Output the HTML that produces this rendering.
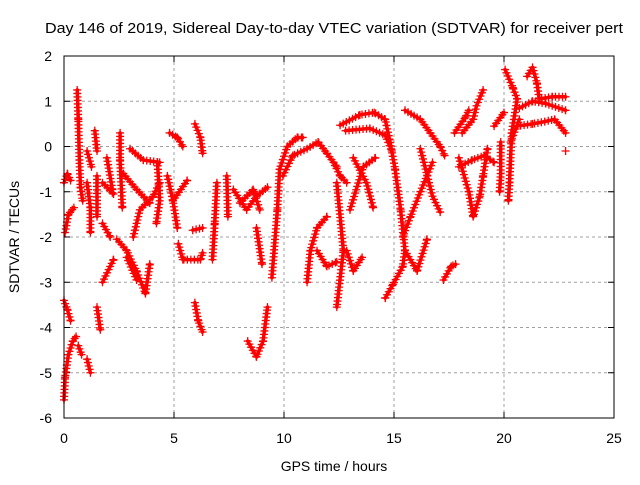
<!DOCTYPE html>
<html><head><meta charset="utf-8"><style>
body{margin:0;background:#fff}
svg text{font-family:"Liberation Sans",sans-serif;font-size:14px;fill:#000}
</style></head><body>
<svg id="chart" width="640" height="480" xmlns="http://www.w3.org/2000/svg">
<text x="45" y="33" style="font-size:15px" textLength="578" lengthAdjust="spacingAndGlyphs">Day 146 of 2019, Sidereal Day-to-day VTEC variation (SDTVAR) for receiver pert</text>
<text x="334" y="471" text-anchor="middle">GPS time / hours</text>
<text transform="translate(19,237) rotate(-90)" text-anchor="middle">SDTVAR / TECUs</text>
<g id="grid"></g>
<g id="marks"></g>
<rect x="64" y="56" width="550" height="362" fill="none" stroke="#000" stroke-width="1"/>
</svg>
<script>
const xTicks=[0,5,10,15,20,25];
const yTicks=[2,1,0,-1,-2,-3,-4,-5,-6];
const tracks=[
[[0,-0.8],[0.15,-0.6],[0.3,-0.75]],
[[0,-5.6],[0.05,-5.1],[0.2,-4.6],[0.4,-4.3],[0.55,-4.2]],
[[0,-3.4],[0.15,-3.6],[0.3,-3.85]],
[[0.05,-1.9],[0.2,-1.5],[0.45,-1.35]],
[[0.6,1.25],[0.65,0.6],[0.7,-0.3],[0.75,-0.9],[0.85,-1.2]],
[[0.65,-4.4],[0.8,-4.6]],
[[1.05,-4.7],[1.2,-5.0]],
[[1.05,-0.1],[1.25,-0.45]],
[[1.4,0.35],[1.5,-0.1]],
[[1.05,-0.8],[1.2,-1.35],[1.2,-1.9]],
[[1.5,-0.65],[1.5,-1.55]],
[[1.5,-3.55],[1.65,-4.05]],
[[1.75,-3.0],[2.25,-2.5]],
[[1.75,-0.8],[2.25,-1.05]],
[[1.75,-1.7],[2.1,-2.0]],
[[1.95,-0.25],[2.2,-0.95]],
[[2.55,0.3],[2.55,-0.3],[2.65,-1.35]],
[[2.4,-2.05],[2.85,-2.3],[3.3,-2.75],[3.7,-3.25],[3.9,-2.6]],
[[2.85,-2.45],[3.3,-2.95]],
[[3.0,-0.05],[3.6,-0.3],[4.35,-0.35]],
[[2.7,-0.6],[3.3,-0.95],[3.9,-1.25]],
[[3.15,-2.0],[3.45,-1.4],[4.05,-1.1],[4.35,-0.8]],
[[4.25,-0.35],[4.35,-1.2],[4.2,-1.7]],
[[4.7,-0.65],[4.95,-1.2],[5.15,-1.8]],
[[4.95,-1.2],[5.6,-0.75]],
[[4.8,0.3],[5.15,0.2],[5.4,0.0]],
[[5.2,-2.15],[5.4,-2.5],[6.2,-2.5],[6.3,-2.35]],
[[5.95,0.5],[6.2,0.2],[6.3,-0.15]],
[[5.95,-3.45],[6.1,-3.85],[6.3,-4.1]],
[[5.85,-1.85],[6.3,-1.8]],
[[6.75,-2.5],[6.85,-1.7],[6.95,-0.8]],
[[7.4,-0.65],[7.45,-1.55]],
[[7.7,-0.95],[8.3,-1.4],[8.75,-1.1],[9.25,-0.9]],
[[8.0,-1.25],[8.6,-0.95],[8.9,-1.4]],
[[8.75,-1.8],[9.0,-2.6]],
[[8.35,-4.3],[8.75,-4.65],[9.05,-4.3],[9.25,-3.55]],
[[9.45,-2.9],[9.7,-1.4],[9.8,-0.5],[10.15,0.0],[10.6,0.2],[10.85,0.2]],
[[9.95,-0.65],[10.4,-0.2],[11.05,-0.05],[11.55,0.1],[11.95,-0.15],[12.4,-0.45]],
[[11.05,-3.0],[11.2,-2.3],[11.5,-1.8],[11.95,-1.55]],
[[11.5,-2.3],[11.95,-2.65],[12.4,-2.55]],
[[12.4,-0.8],[12.7,-2.3],[12.4,-3.55]],
[[12.85,-2.3],[13.15,-2.75],[13.55,-2.45]],
[[12.25,-0.35],[12.55,-0.65],[12.85,-0.8]],
[[13.0,-1.4],[13.6,-0.45],[14.15,-0.25]],
[[13.15,-0.25],[13.75,-0.8],[14.05,-1.35]],
[[12.55,0.47],[13.45,0.7],[14.1,0.75],[14.6,0.6],[14.8,0.15],[15.05,-0.5],[15.3,-1.4],[15.5,-2.3],[15.4,-2.65],[14.95,-3.05],[14.6,-3.35]],
[[12.8,0.35],[13.9,0.4],[14.6,0.25],[14.9,-0.1]],
[[15.5,-2.3],[16.05,-2.75],[16.5,-2.05]],
[[15.5,0.8],[16.2,0.6],[16.65,0.3],[17.1,0.0],[17.3,-0.2]],
[[16.2,-0.05],[16.75,-1.1],[17.1,-1.45]],
[[16.75,-0.35],[16.2,-1.0],[15.75,-1.55],[15.4,-2.0]],
[[17.25,-2.95],[17.6,-2.65],[17.8,-2.6]],
[[17.75,0.3],[18.25,0.65],[18.4,0.8]],
[[17.95,-0.25],[18.4,-1.0],[18.6,-1.55],[18.9,-1.1],[19.05,-0.65],[19.25,-0.05]],
[[18.1,0.3],[18.6,0.6],[18.75,0.9],[19.05,1.25]],
[[17.95,-0.45],[18.55,-0.3],[19.1,-0.2],[19.55,-0.35]],
[[19.55,0.45],[20.0,0.75]],
[[19.85,0.1],[19.85,-0.6],[19.8,-1.0]],
[[20.05,1.7],[20.4,1.3],[20.6,1.05],[20.35,0.3],[20.25,-0.8],[20.2,-1.2]],
[[21.05,1.55],[21.3,1.75],[21.5,1.4],[21.6,1.05],[22.2,1.1],[22.8,1.1]],
[[20.7,0.85],[21.3,1.0],[21.9,0.95],[22.8,0.8]],
[[20.6,0.45],[21.3,0.5],[21.85,0.55],[22.3,0.6],[22.8,0.3]],
[[20.3,0.1],[20.7,0.6]],
[[22.8,-0.1]]
];
const X0=64,X1=614,Y0=418,Y1=56;
function xs(h){return X0+(h-0)/(25-0)*(X1-X0);}
function ys(v){return Y0-(v-(-6))/(2-(-6))*(Y0-Y1);}
const NS="http://www.w3.org/2000/svg";
const svg=document.getElementById('chart'),grid=document.getElementById('grid'),marks=document.getElementById('marks');
function mk(tag,attrs,parent){const e=document.createElementNS(NS,tag);for(const k in attrs)e.setAttribute(k,attrs[k]);parent.appendChild(e);return e;}
xTicks.forEach(t=>{const x=xs(t);
 if(t>0&&t<25){const g=mk('line',{x1:x,x2:x,y1:Y1,y2:Y0,stroke:'#a0a0a0','stroke-dasharray':'3,3'},grid);
 
 }
 const tk=mk('path',{d:`M${x},${Y0}v-6M${x},${Y1}v6`,stroke:'#000'},grid);
 
 
 const l=mk('text',{x:x,y:443,'text-anchor':'middle'},svg);l.textContent=t;
 
 
});
yTicks.forEach(t=>{const y=ys(t);
 if(t>-6&&t<2){const g=mk('line',{x1:X0,x2:X1,y1:y,y2:y,stroke:'#a0a0a0','stroke-dasharray':'3,3'},grid);
 
 }
 const tk=mk('path',{d:`M${X0},${y}h6M${X1},${y}h-6`,stroke:'#000'},grid);
 
 
 const l=mk('text',{x:52,y:y+5,'text-anchor':'end'},svg);l.textContent=t;
 
 
});
tracks.forEach(tr=>{
 const pl=mk('polyline',{points:tr.map(p=>xs(p[0])+','+ys(p[1])).join(' '),fill:'none',stroke:'#f00','stroke-width':3.5,'stroke-linejoin':'round','stroke-linecap':'round'},marks);
 
 
 let d='';
 const L=pl.getTotalLength?pl.getTotalLength():0;
 for(let s=0;s<=L;s+=3.5){const q=pl.getPointAtLength(s);d+=`M${q.x-4},${q.y}h8M${q.x},${q.y-4}v8`;}
 tr.forEach(p=>{const x=xs(p[0]),y=ys(p[1]);d+=`M${x-4},${y}h8M${x},${y-4}v8`;});
 const m=mk('path',{d:d,stroke:'#f00','stroke-width':1.3,fill:'none'},marks);
 
 
});
</script>
</body></html>
